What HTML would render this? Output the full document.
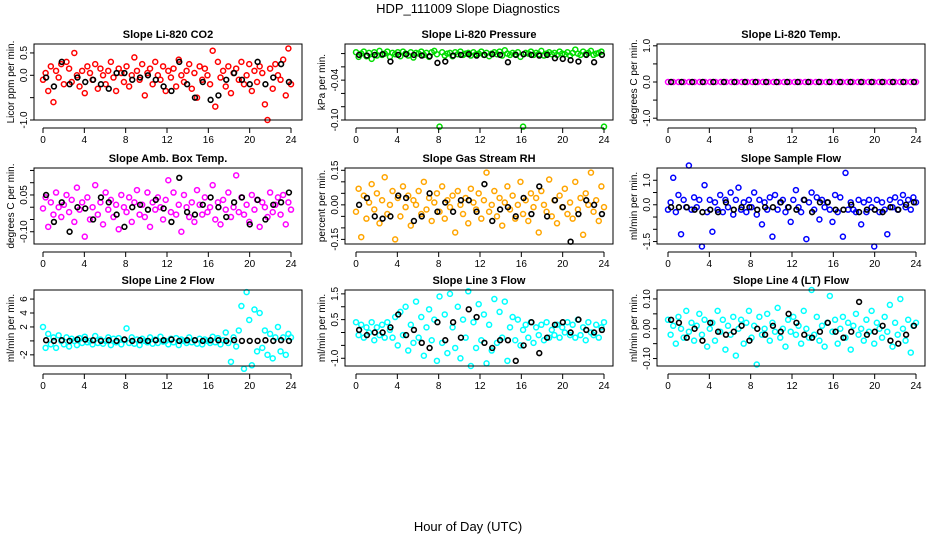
<!DOCTYPE html>
<html><head><meta charset="utf-8"><style>
body{margin:0;background:#fff}
svg{font-family:"Liberation Sans",Arial,sans-serif}
</style></head><body>
<svg id="chart" width="936" height="540" viewBox="0 0 936 540">
<text x="468" y="13" font-size="13" text-anchor="middle">HDP_111009  Slope Diagnostics</text>
<text x="468" y="531" font-size="13" text-anchor="middle">Hour of Day (UTC)</text>
</svg>
<script>
// ---- data (values in display units after dividing by scale) ----
const xTicks = [0,4,8,12,16,20,24];
const titles = ["Slope Li-820 CO2","Slope Li-820 Pressure","Slope Li-820 Temp.","Slope Amb. Box Temp.","Slope Gas Stream RH","Slope Sample Flow","Slope Line 2 Flow","Slope Line 3 Flow","Slope Line 4 (LT) Flow"];
const yTitles = ["Licor ppm per min.","kPa per min.","degrees C per min.","degrees C per min.","percent per min.","ml/min per min.","ml/min per min.","ml/min per min.","ml/min per min."];
const colors = ["#ff0000","#00dd00","#ff00ff","#ff00ff","#ffa500","#0000ff","#00ffff","#00ffff","#00ffff"];
const scales = [100,1000,1,1000,1000,100,10,100,1000];
const yTickVals = [[-1,-0.5,0,0.5],[0,-0.02,-0.04,-0.06,-0.08,-0.1],[-1,-0.5,0,0.5,1],[0.15,0.1,0.05,0,-0.05,-0.1],[0.15,0.1,0.05,0,-0.05,-0.1,-0.15],[1,0.5,0,-0.5,-1,-1.5],[6,4,2,0,-2],[1.5,1,0.5,0,-0.5,-1],[0.1,0.05,0,-0.05,-0.1]];
const yTickLabels = [["-1.0","","0.0","0.5"],["","","-0.04","","","-0.10"],["-1.0","","0.0","","1.0"],["","","0.05","","","-0.10"],["0.15","","","0.00","","","-0.15"],["1.0","","0.0","","","-1.5"],["6","4","2","","-2"],["1.5","","0.5","","","-1.0"],["0.10","","0.00","","-0.10"]];
const yRanges = [[-1.0,0.7],[-0.1,0.0144],[-1.05,1.05],[-0.15,0.16],[-0.17,0.16],[-1.6,1.5],[-3.6,7.3],[-1.3,1.65],[-0.125,0.13]];

const s1 = [-10,5,-35,20,-60,10,-5,25,-20,30,15,-15,50,0,-25,10,-40,20,5,-10,25,-30,15,0,-20,10,30,-5,-35,15,5,-15,20,-25,0,40,10,-10,25,-45,5,15,-20,30,0,-10,20,-35,10,-5,15,-25,35,0,-15,10,25,-30,5,-50,20,-10,15,0,-20,55,-70,30,-5,10,-25,20,-40,5,15,-10,30,-20,0,25,-35,10,-15,20,5,-65,-100,15,-30,25,0,-10,35,-45,60,-20];
const b1 = [-5,-25,30,-20,-5,-15,-10,-20,-30,5,5,-10,-5,0,-10,-25,-35,30,-20,-50,-15,-55,-45,-10,5,-10,-20,30,-20,-5,25,-15];
const s2 = [2,-5,0,3,-4,1,-8,2,-3,4,-2,0,3,-5,1,-1,2,-4,3,0,-3,2,-6,1,0,3,-2,1,-5,2,4,-1,-110,2,-3,0,1,-4,2,-1,3,-2,0,1,-3,2,-1,0,3,-2,1,-4,0,2,-1,3,-3,5,0,-2,1,-1,2,-5,-110,1,0,3,-2,1,-1,4,-3,0,2,-1,1,-2,3,0,-1,2,-3,1,6,0,-2,3,-1,1,4,-2,0,1,3,-110];
const b2 = [-2,-3,-2,-1,-12,-2,-1,-2,-3,-4,-14,-12,-3,-2,-1,-3,-2,-1,-2,-13,-2,-1,-2,-3,-2,-7,-8,-10,-12,-2,-13,-2];
const s3 = new Array(48).fill(0);
const b3 = new Array(24).fill(0);
const s4 = [-5,40,-80,20,-30,60,0,-40,10,50,-20,30,-60,80,-10,20,-120,40,-50,0,90,-30,20,-70,60,-10,30,-40,10,-90,50,0,-20,40,-60,20,70,-30,10,-40,60,-80,20,-10,40,0,-50,30,110,-20,60,-30,10,-100,50,0,-40,20,-60,70,10,-30,40,-20,0,90,-50,20,-70,30,-10,60,-40,0,130,-20,40,-30,10,-60,50,-10,30,-80,20,0,-40,60,-20,10,40,-30,50,-70,20,-10];
const b4 = [50,-60,20,-100,0,-5,-50,40,20,-30,-80,0,10,-10,30,-5,-60,120,-20,-30,10,40,0,-40,20,40,-70,30,-50,10,20,60];
const s5 = [-30,70,-140,40,-60,10,90,-20,50,-80,20,120,-40,0,60,-150,30,-50,80,-10,40,-90,20,0,60,-40,100,-20,30,-70,10,50,-30,80,-60,20,-10,40,-120,60,0,-40,30,-80,70,10,-20,50,-60,20,140,-30,0,60,-50,30,-90,10,80,-20,40,-60,0,100,-40,20,-70,50,-10,30,-120,60,0,-30,110,-50,20,-80,40,-10,70,-40,10,-60,100,-20,30,-130,50,0,140,-30,20,-70,80,-10];
const b5 = [0,30,-50,-60,-50,40,30,-70,-50,50,-30,10,-30,20,20,-30,90,-70,-20,-10,-50,30,-40,80,-50,20,-10,-160,-40,20,0,-40];
const s6 = [-20,10,110,-30,40,-120,20,-10,160,-20,30,-10,20,-170,80,-30,20,-110,10,-20,40,-30,20,-10,50,-40,20,70,-20,10,-30,20,-10,50,-40,20,-80,10,-20,30,-130,40,-20,10,20,-30,-10,-70,20,60,-10,-30,20,-140,10,50,-20,30,-60,20,-10,10,-20,-70,40,-30,30,-130,130,-20,10,-20,-30,20,-80,10,-30,20,-10,-170,20,-30,10,-20,-120,20,-10,30,-20,10,40,-10,20,-20,30,10];
const b6 = [-10,-10,-10,-20,-30,-20,-30,10,-20,-10,-10,-20,-10,-10,10,-10,-20,20,-30,10,10,-20,-20,0,-30,-20,-20,-30,-10,-20,0,10];
const s7 = [20,-10,10,-5,5,-10,8,0,-5,5,-8,3,0,-6,4,-3,6,-2,0,-5,7,-3,2,-4,0,5,-6,3,-2,4,-5,1,18,-3,5,-4,2,-6,3,0,-2,5,-4,2,-3,6,-1,0,-5,3,-2,4,-6,2,0,-3,5,-2,1,-4,3,-5,2,0,-3,6,-2,4,-5,1,12,-3,-30,5,-8,15,50,-40,70,30,-35,45,-15,40,-10,15,-20,10,-25,5,20,-15,5,-20,10,5];
const b7 = [1,0,1,0,2,2,1,0,1,0,2,0,1,0,1,1,2,0,1,1,0,1,1,0,1,0,0,0,1,0,1,0];
const s8 = [40,-10,30,-20,20,0,40,-30,20,-10,30,-20,40,10,-20,60,-50,80,-10,100,-70,30,-40,120,-20,60,-90,20,90,-30,50,-110,140,-40,70,-80,150,20,-60,100,-100,50,-20,160,-130,40,-60,110,-30,70,-120,30,-70,130,-40,80,-20,120,-110,20,60,-30,50,-50,10,30,-20,40,-40,20,-10,30,-30,40,-20,10,-10,30,-20,20,0,40,-10,30,-20,50,-10,20,-30,40,0,-10,30,-20,20,40];
const b8 = [10,-10,0,0,20,70,-10,10,-40,-60,40,-30,40,-20,90,60,-40,-60,-30,-30,-110,-50,40,-80,-20,30,40,0,50,10,0,10];
const s9 = [30,-20,10,-50,40,0,-30,60,-10,20,-40,10,50,-20,30,-60,0,20,-40,60,-10,30,-70,10,-20,40,-90,0,30,-50,20,60,-30,10,-120,40,-20,0,50,-40,20,-10,70,-30,0,-60,30,-10,40,-20,10,-50,60,0,-30,130,-20,40,-40,10,-60,20,110,-10,30,-50,0,40,-30,20,-70,10,50,-20,0,-40,30,-10,60,-50,20,0,-30,40,-10,80,-60,20,-20,100,0,-40,30,-80,10,20];
const b9 = [30,20,-30,0,-40,20,-10,-20,-10,10,-40,0,-20,10,-10,50,20,-20,-30,-10,20,-10,-30,-10,90,-20,-10,10,-40,-50,-20,10];

const series = [s1,s2,s3,s4,s5,s6,s7,s8,s9];
const blacks = [b1,b2,b3,b4,b5,b6,b7,b8,b9];

// ---- layout ----
const NS = "http://www.w3.org/2000/svg";
const svg = document.getElementById("chart");
const colLeft = [34,345,657], colX0 = [43,356,668], XW = 248, BW = 268;
const rowTop = [44,168,290], BH = 76;
function mk(tag, attrs, parent){const e=document.createElementNS(NS,tag);for(const k in attrs)e.setAttribute(k,attrs[k]);(parent||svg).appendChild(e);return e;}

for(let p=0;p<9;p++){
  const c=p%3, r=Math.floor(p/3);
  const bx=colLeft[c], by=rowTop[r], x0=colX0[c];
  const [ymin,ymax]=yRanges[p];
  const xs=h=>x0+h/24*XW;
  const ys=v=>by+BH-(v-ymin)/(ymax-ymin)*BH;
  const g=mk("g",{});
  
  
  const t=mk("text",{x:bx+BW/2,y:by-6,"font-size":"11","font-weight":"bold","text-anchor":"middle"},g);
  t.textContent=titles[p];
  
  
  const yt=mk("text",{x:0,y:0,"font-size":"10","text-anchor":"middle",transform:`translate(${bx-20},${by+BH/2}) rotate(-90)`},g);
  yt.textContent=yTitles[p];
  
  
  // points
  const s=series[p], n=s.length;
  s.forEach((v,i)=>{
    const cc=mk("circle",{cx:xs(i*24/(n-1)),cy:ys(v/scales[p]),r:2.5,fill:"none",stroke:colors[p],"stroke-width":1.5},g);
    
    
  });
  const b=blacks[p], m=b.length;
  b.forEach((v,i)=>{
    const cc=mk("circle",{cx:xs(0.3+i*23.5/(m-1)),cy:ys(v/scales[p]),r:2.4,fill:"none",stroke:"#000","stroke-width":1.6},g);
    
    
  });
  // box
  const rect=mk("rect",{x:bx,y:by,width:BW,height:BH,fill:"none",stroke:"#000","stroke-width":1},g);
  
  
  // x axis
  const xa=mk("g",{},g);
  
  
  mk("line",{x1:xs(0),x2:xs(24),y1:by+BH+8,y2:by+BH+8,stroke:"#000"},xa);
  xTicks.forEach(h=>{
    mk("line",{x1:xs(h),x2:xs(h),y1:by+BH+8,y2:by+BH+13,stroke:"#000"},xa);
    const tl=mk("text",{x:xs(h),y:by+BH+23,"font-size":"10","text-anchor":"middle"},xa);
    tl.textContent=h;
    
    
  });
  // y axis
  const ya=mk("g",{},g);
  
  
  const tv=yTickVals[p];
  tv.forEach((v,i)=>{
    mk("line",{x1:bx,x2:bx-4,y1:ys(v),y2:ys(v),stroke:"#000"},ya);
    const lab=yTickLabels[p][i];
    if(lab){
      const tl=mk("text",{x:0,y:0,"font-size":"10","text-anchor":"middle",transform:`translate(${bx-7},${ys(v)}) rotate(-90)`},ya);
      tl.textContent=lab;
      
      
    }
  });
}
</script>
</body></html>
